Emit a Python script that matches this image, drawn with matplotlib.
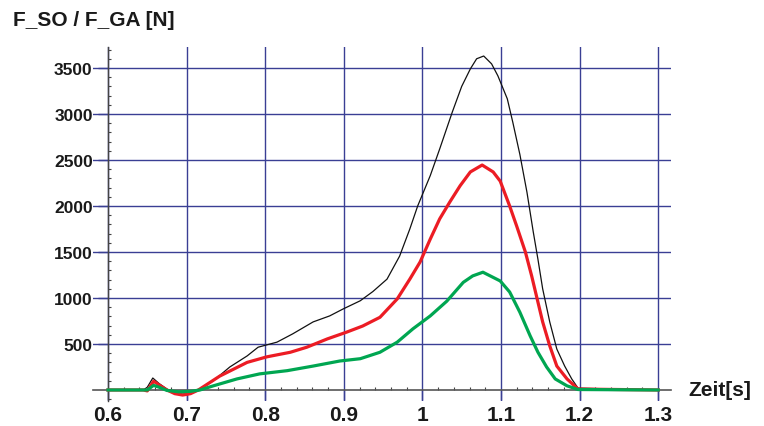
import matplotlib.pyplot as plt
from matplotlib.ticker import MultipleLocator

plt.rcParams['font.family'] = ['Liberation Sans', 'DejaVu Sans']

# Zeit [s] und Kraft [N] je Kurve
t_schwarz = [0.600, 0.645, 0.650, 0.657, 0.665, 0.675, 0.685, 0.695, 0.705, 0.712,
             0.717, 0.734, 0.755, 0.777, 0.791, 0.815, 0.835, 0.861, 0.882, 0.899,
             0.921, 0.937, 0.955, 0.971, 0.984, 0.994, 1.010, 1.022, 1.038, 1.050,
             1.061, 1.069, 1.078, 1.088, 1.096, 1.108, 1.115, 1.124, 1.133, 1.141,
             1.147, 1.153, 1.162, 1.171, 1.181, 1.190, 1.198, 1.300]
f_schwarz = [0, 0, 30, 130, 70, 10, -30, -45, -35, 0,
             10, 100, 250, 370, 465, 520, 610, 740, 805, 880,
             970, 1070, 1205, 1455, 1750, 2000, 2330, 2620, 3020, 3300,
             3490, 3600, 3630, 3545, 3415, 3165, 2910, 2560, 2150, 1720,
             1420, 1100, 740, 445, 260, 120, 20, 0]

t_rot = [0.600, 0.645, 0.650, 0.658, 0.665, 0.675, 0.685, 0.695, 0.705, 0.715,
         0.742, 0.777, 0.802, 0.832, 0.853, 0.879, 0.904, 0.924, 0.946, 0.968,
         0.984, 0.997, 1.010, 1.022, 1.035, 1.048, 1.061, 1.076, 1.090, 1.099,
         1.111, 1.120, 1.131, 1.139, 1.146, 1.153, 1.162, 1.171, 1.184, 1.198,
         1.300]
f_rot = [0, 0, -10, 95, 55, 0, -40, -55, -40, 0,
         150, 300, 360, 410, 465, 555, 630, 695, 790, 990,
         1205, 1390, 1640, 1860, 2045, 2220, 2370, 2445, 2370, 2270,
         2000, 1780, 1500, 1240, 990, 740, 480, 260, 120, 10,
         0]

t_gruen = [0.600, 0.645, 0.650, 0.658, 0.665, 0.675, 0.690, 0.705, 0.717, 0.734,
           0.764, 0.793, 0.828, 0.861, 0.895, 0.921, 0.946, 0.968, 0.988, 1.010,
           1.031, 1.052, 1.064, 1.077, 1.099, 1.111, 1.124, 1.137, 1.147, 1.158,
           1.169, 1.184, 1.198, 1.300]
f_gruen = [0, 0, 0, 50, 30, -5, -20, -15, 0, 45,
           120, 175, 210, 260, 315, 340, 410, 520, 665, 805,
           965, 1170, 1240, 1280, 1185, 1065, 845, 590, 410, 250,
           120, 45, 5, 0]

x_ticks = [0.6, 0.7, 0.8, 0.9, 1.0, 1.1, 1.2, 1.3]
x_labels = ['0.6', '0.7', '0.8', '0.9', '1', '1.1', '1.2', '1.3']
y_ticks = [500, 1000, 1500, 2000, 2500, 3000, 3500]

gitter = '#3a3f94'

fig = plt.figure(figsize=(7.64, 4.27), dpi=100)
ax = fig.add_axes([0.1217, 0.0585, 0.7566, 0.8291])

ax.plot(t_schwarz, f_schwarz, color='#111111', lw=0.9, zorder=3)
ax.plot(t_rot, f_rot, color='#ec1c24', lw=2.3, zorder=4)
ax.plot(t_gruen, f_gruen, color='#00a651', lw=2.3, zorder=5)

ax.set_xlim(0.5809, 1.3163)
ax.set_ylim(-120, 3728)

ax.spines['top'].set_visible(False)
ax.spines['right'].set_visible(False)
ax.spines['left'].set_position(('data', 0.6))
ax.spines['bottom'].set_position(('data', 0))
ax.spines['left'].set_color('#444444')
ax.spines['bottom'].set_color('#555555')
ax.spines['left'].set_linewidth(1.0)
ax.spines['bottom'].set_linewidth(1.2)

ax.set_xticks(x_ticks)
ax.set_xticklabels(x_labels)
ax.set_yticks(y_ticks)
ax.xaxis.set_minor_locator(MultipleLocator(0.02))
ax.yaxis.set_minor_locator(MultipleLocator(100))

ax.grid(True, which='major', color=gitter, lw=1.0, zorder=1)
ax.set_axisbelow(True)

ax.tick_params(axis='both', which='major', direction='out', length=7,
               width=1.0, color=gitter)
ax.tick_params(axis='x', which='major', labelsize=15, pad=4)
ax.tick_params(axis='y', which='major', labelsize=12.5, pad=4)
ax.tick_params(axis='both', which='minor', direction='in', length=2.5,
               width=0.8, color='#444444')
for lbl in ax.get_xticklabels() + ax.get_yticklabels():
    lbl.set_fontweight('bold')
    lbl.set_color('#1a1a1a')

fig.text(13 / 764, 1 - 20 / 427, 'F_SO / F_GA [N]', fontsize=15,
         fontweight='bold', color='#1a1a1a', va='center', ha='left')
fig.text(688 / 764, 1 - 391 / 427, 'Zeit[s]', fontsize=15,
         fontweight='bold', color='#1a1a1a', va='center', ha='left')

fig.savefig('out.png', dpi=100)
